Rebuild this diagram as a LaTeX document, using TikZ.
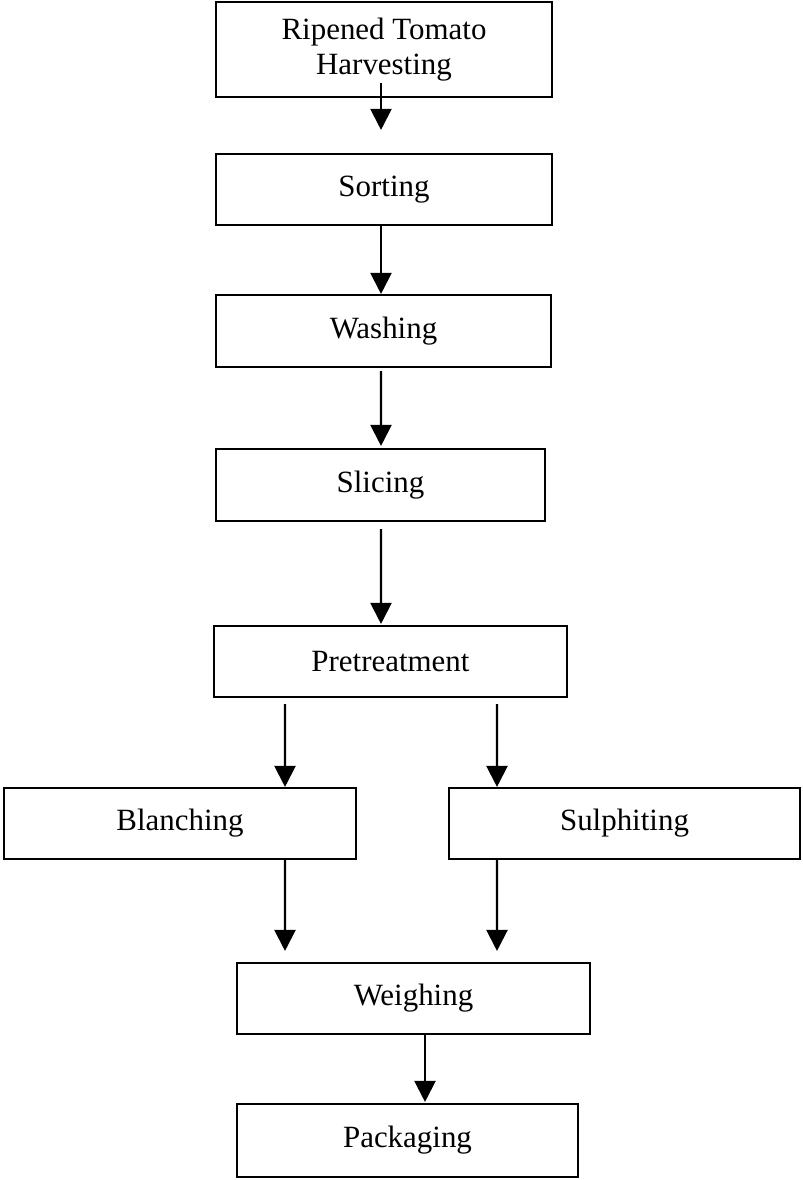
\documentclass[tikz,border=0pt]{standalone}
\usepackage{fontspec}
\setmainfont{Liberation Serif}
\usetikzlibrary{positioning,arrows.meta}

\begin{document}
\begin{tikzpicture}
    [every node/.style={draw, line width=1.2pt, rectangle, inner sep=0pt, align=center, font=\fontsize{17.6}{20}\selectfont},
     flow/.style={line width=1.2pt, -{Triangle[length=0.42cm, width=0.42cm]}}]
  \useasboundingbox (0,0) rectangle (16.06,-23.6);

  \node[minimum width=6.72cm, minimum height=1.90cm] (n1) at (7.68,-0.99) {Ripened Tomato\\Harvesting};
  \node[minimum width=6.72cm, minimum height=1.42cm] (n2) at (7.68,-3.79) {Sorting};
  \node[minimum width=6.70cm, minimum height=1.44cm] (n3) at (7.67,-6.62) {Washing};
  \node[minimum width=6.58cm, minimum height=1.44cm] (n4) at (7.61,-9.70) {Slicing};
  \node[minimum width=7.06cm, minimum height=1.42cm] (n5) at (7.81,-13.23) {Pretreatment};
  \node[minimum width=7.04cm, minimum height=1.42cm] (n6) at (3.60,-16.47) {Blanching};
  \node[minimum width=7.02cm, minimum height=1.42cm] (n7) at (12.49,-16.47) {Sulphiting};
  \node[minimum width=7.06cm, minimum height=1.42cm] (n8) at (8.27,-19.97) {Weighing};
  \node[minimum width=6.82cm, minimum height=1.46cm] (n9) at (8.15,-22.81) {Packaging};

  % main column
  \draw[flow] ([xshift=-0.06cm, yshift=0.30cm]n1.south) -- ([xshift=-0.06cm, yshift=0.46cm]n2.north);
  \draw[flow] ([xshift=-0.06cm]n2.south) -- ([xshift=-0.05cm]n3.north);
  \draw[flow] ([xshift=-0.05cm, yshift=-0.06cm]n3.south) -- ([xshift=0.01cm, yshift=0.04cm]n4.north);
  \draw[flow] ([xshift=0.01cm, yshift=-0.14cm]n4.south) -- ([xshift=-0.19cm, yshift=0.02cm]n5.north);

  % split and join
  \draw[flow] ([xshift=-2.11cm, yshift=-0.12cm]n5.south) -- ([xshift=2.10cm]n6.north);
  \draw[flow] ([xshift=2.13cm, yshift=-0.12cm]n5.south) -- ([xshift=-2.55cm]n7.north);
  \draw[flow] ([xshift=2.10cm]n6.south) -- ([xshift=-2.57cm, yshift=0.22cm]n8.north);
  \draw[flow] ([xshift=-2.55cm]n7.south) -- ([xshift=1.67cm, yshift=0.22cm]n8.north);
  \draw[flow] ([xshift=0.23cm]n8.south) -- ([xshift=0.35cm, yshift=0.02cm]n9.north);
\end{tikzpicture}
\end{document}
